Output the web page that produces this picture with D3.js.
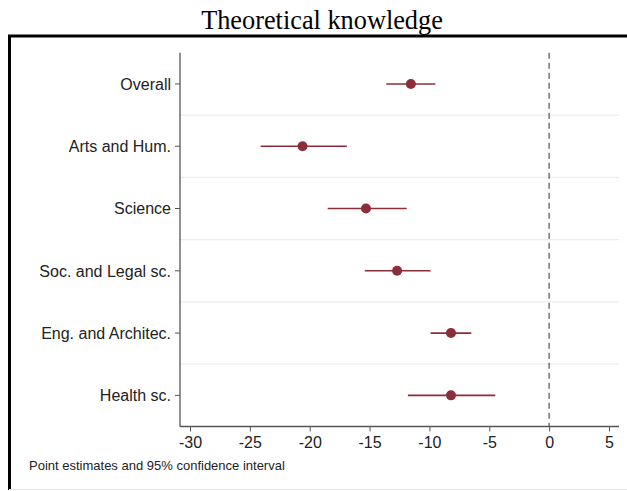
<!DOCTYPE html>
<html><head><meta charset="utf-8">
<script src="https://cdn.jsdelivr.net/npm/d3@7"></script>
<style>body{margin:0;background:#fff}svg{display:block}</style>
</head><body>
<script>
const categories = ["Overall","Arts and Hum.","Science","Soc. and Legal sc.","Eng. and Architec.","Health sc."];
const estimates = [-11.55,-20.6,-15.3,-12.7,-8.2,-8.2];
const ciLow = [-13.6,-24.1,-18.5,-15.4,-9.9,-11.8];
const ciHigh = [-9.5,-16.9,-11.9,-9.9,-6.5,-4.5];
const xTicks = [-30,-25,-20,-15,-10,-5,0,5];
const title = "Theoretical knowledge";
const note = "Point estimates and 95% confidence interval";

(function(){
const W=627,H=491;
const svg=d3.select("body").append("svg").attr("width",W).attr("height",H);
svg.append("path").attr("d","M9.5,490 L9.5,36 L640,36").attr("fill","none").attr("stroke","#000").attr("stroke-width",3);
svg.append("line").attr("x1",9).attr("x2",627).attr("y1",489.5).attr("y2",489.5).attr("stroke","#e6e6e6");
svg.append("text").attr("x",322).attr("y",29).attr("text-anchor","middle")
  .attr("font-family","Liberation Serif, Times New Roman, serif").attr("font-size",26.3).text(title);

const pl=180,pr=619,pt=52.8,pb=426.5;
const x=d3.scaleLinear().domain([-30,5]).range([190,609]);
const y=d3.scaleBand().domain(categories).range([pt,pb]);
const col="#8c2d3a";

const g=svg.append("g");
categories.slice(1).forEach(c=>{
  g.append("line").attr("x1",pl).attr("x2",pr).attr("y1",y(c)).attr("y2",y(c))
   .attr("stroke","#ececec").attr("stroke-width",1.2);
});
g.append("line").attr("x1",x(0)).attr("x2",x(0)).attr("y1",pt).attr("y2",pb)
 .attr("stroke","#7a7a7a").attr("stroke-width",1.6).attr("stroke-dasharray","6,4");

const yAxis=svg.append("g").attr("transform",`translate(${pl},0)`)
  .call(d3.axisLeft(y).tickSize(5).tickPadding(4));
yAxis.select(".domain").attr("d",`M0,${pt}V${pb}`).attr("stroke","#555").attr("stroke-width",1.3);
yAxis.selectAll(".tick line").attr("stroke","#555");
yAxis.selectAll("text").attr("font-family","Liberation Sans, Arial, sans-serif").attr("font-size",16).attr("fill","#222").attr("dy","0.36em");

const xAxis=svg.append("g").attr("transform",`translate(0,${pb})`)
  .call(d3.axisBottom(x).tickValues(xTicks).tickFormat(d=>String(d)).tickSize(5).tickPadding(5));
xAxis.select(".domain").attr("d",`M${pl},0H${pr}`).attr("stroke","#555").attr("stroke-width",1.3);
xAxis.selectAll(".tick line").attr("stroke","#555");
xAxis.selectAll("text").attr("font-family","Liberation Sans, Arial, sans-serif").attr("font-size",16).attr("fill","#222");

const data=categories.map((c,i)=>({c,e:estimates[i],lo:ciLow[i],hi:ciHigh[i]}));
const cy=d=>y(d.c)+y.bandwidth()/2;
svg.selectAll(".ci").data(data).enter().append("line")
  .attr("x1",d=>x(d.lo)).attr("x2",d=>x(d.hi)).attr("y1",cy).attr("y2",cy)
  .attr("stroke",col).attr("stroke-width",1.6);
svg.selectAll(".pt").data(data).enter().append("circle")
  .attr("cx",d=>x(d.e)).attr("cy",cy).attr("r",5).attr("fill",col);

svg.append("text").attr("x",29).attr("y",470).attr("font-family","Liberation Sans, Arial, sans-serif")
  .attr("font-size",13).attr("fill","#222").text(note);
})();
</script>
</body></html>
